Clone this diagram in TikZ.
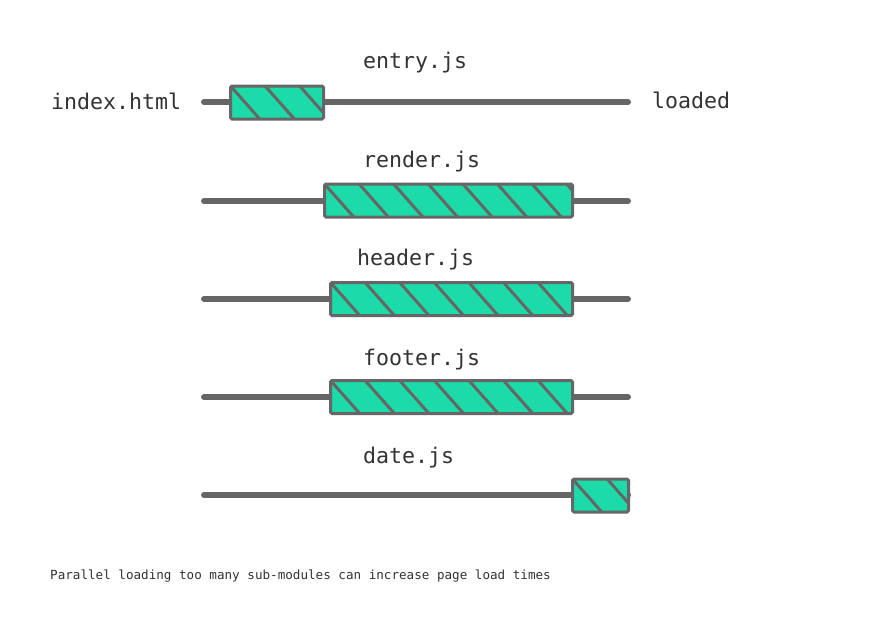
\documentclass[tikz,border=0pt]{standalone}
\usepackage{xcolor}
\usepackage{fontspec}
\setmonofont{DejaVu Sans Mono}
\usepackage{tikz}
\usetikzlibrary{positioning}

\definecolor{wiregray}{HTML}{666666}
\definecolor{chunkgreen}{HTML}{1DDBA8}
\definecolor{inkgray}{HTML}{333333}

\tikzset{
  wire/.style={draw=wiregray, line width=6pt, line cap=round},
  chunk/.style={draw=wiregray, fill=chunkgreen, line width=3pt, rounded corners=1.5pt,
    minimum height=33pt, inner sep=0pt,
    path picture={
      \foreach \k in {0,...,8}
        \draw[wiregray, line width=3pt] ([xshift=\k*34.6pt]path picture bounding box.north west) -- ++(31pt,-35pt);
    }},
  jsname/.style={anchor=base west, inner sep=0pt, text=inkgray, font=\ttfamily\fontsize{21.6}{24}\selectfont},
  note/.style={anchor=base west, inner sep=0pt, text=inkgray, font=\ttfamily\fontsize{12.6}{14}\selectfont}
}

\begin{document}
\begin{tikzpicture}[x=1pt, y=-1pt]
        \useasboundingbox[fill=white] (0,0) rectangle (880,625);
        % wires
        \coordinate (entry-in) at (204,102);  \coordinate (entry-out) at (628,102);
        \coordinate (render-in) at (204,201); \coordinate (render-out) at (628,201);
        \coordinate (header-in) at (204,299); \coordinate (header-out) at (628,299);
        \coordinate (footer-in) at (204,397); \coordinate (footer-out) at (628,397);
        \coordinate (date-in) at (204,495);   \coordinate (date-out) at (628,495);
        \draw[wire] (entry-in) -- (entry-out);
        \draw[wire] (render-in) -- (render-out);
        \draw[wire] (header-in) -- (header-out);
        \draw[wire] (footer-in) -- (footer-out);
        \draw[wire] (date-in) -- (date-out);
        % load bars
        \node[chunk, minimum width=93pt] (entry) at (277,102.5) {};
        \node[chunk, minimum width=248pt] (render) at (448.5,200.5) {};
        \node[chunk, minimum width=242pt] (header) at (451.5,299) {};
        \node[chunk, minimum width=242pt] (footer) at (451.5,397) {};
        \node[chunk, minimum width=56pt] (date) at (600.5,495.5) {};
        % names
        \node[jsname] (entry-name) at (363,68) {entry.js};
        \node[jsname] (render-name) at (363,167) {render.js};
        \node[jsname] (header-name) at (357,265) {header.js};
        \node[jsname] (footer-name) at (363,365) {footer.js};
        \node[jsname] (date-name) at (363,463) {date.js};
        \node[jsname] (index) at (51,109.5) {index.html};
        \node[jsname] (loaded) at (652,108.5) {loaded};
        \node[note] (caption) at (50,579) {Parallel loading too many sub-modules can increase page load times};
      \end{tikzpicture}
\end{document}
